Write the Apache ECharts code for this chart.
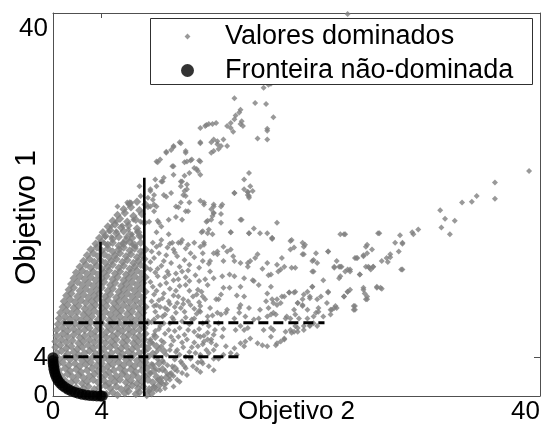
<!DOCTYPE html>
<html>
<head>
<meta charset="utf-8">
<script src="https://cdn.jsdelivr.net/npm/echarts@6/dist/echarts.min.js"></script>
<style>
  html, body { margin: 0; padding: 0; background: #fff; }
  #chart { width: 545px; height: 425px; }
</style>
</head>
<body>
<div id="chart"></div>
<script>
const FONT = '"Liberation Sans", Arial, Helvetica, sans-serif';
const AXIS_COLOR = '#505050';

// Tick positions shown on both axes
const xTicks = [0, 4, 40];
const yTicks = [0, 4, 40];

const seriesNames = ['Valores dominados', 'Fronteira não-dominada'];
const axisNames = ['Objetivo 2', 'Objetivo 1'];

// Dominated solutions: [objetivo 2, objetivo 1]
const dominatedCore = [
  // dense fan next to the frontier
  [4.4,0.2],[4.9,0.4],[5.3,0.1],[5.9,0.3],[6.2,0.5],[6.8,0.2],[7.1,0.4],[7.7,0.1],[8.1,0.3],
  [1.9,0.9],[2.5,0.8],[2.9,1.0],[3.4,0.7],[3.8,0.9],[4.3,1.1],[4.7,0.8],[5.2,1.0],[5.6,0.7],[6.1,0.9],[6.5,1.1],[7.0,0.8],[7.4,1.0],[7.9,0.7],[8.3,0.9],[8.7,1.1],
  [1.0,1.6],[1.5,1.4],[1.9,1.6],[2.4,1.3],[2.8,1.5],[3.3,1.7],[3.7,1.4],[4.2,1.6],[4.6,1.3],[5.1,1.5],[5.5,1.7],[6.0,1.4],[6.4,1.6],[6.9,1.3],[7.3,1.5],[7.8,1.7],[8.2,1.4],[8.8,1.6],[9.3,1.9],
  [0.7,2.1],[1.2,2.3],[1.6,2.0],[2.1,2.2],[2.5,1.9],[3.0,2.1],[3.4,2.3],[3.9,2.0],[4.3,2.2],[4.8,1.9],[5.2,2.1],[5.7,2.3],[6.1,2.0],[6.6,2.2],[7.0,1.9],[7.5,2.1],[7.9,2.3],[8.5,2.0],[9.6,2.2],
  [0.5,2.7],[1.0,2.9],[1.4,2.6],[1.9,2.8],[2.3,2.5],[2.8,2.7],[3.2,2.9],[3.7,2.6],[4.1,2.8],[4.6,2.5],[5.0,2.7],[5.5,2.9],[5.9,2.6],[6.4,2.8],[6.8,2.5],[7.3,2.7],[7.7,2.9],[8.3,2.6],[9.0,2.8],[10.0,2.9],
  [0.4,3.3],[0.8,3.5],[1.3,3.2],[1.8,3.4],[2.2,3.1],[2.7,3.3],[3.1,3.5],[3.6,3.2],[4.0,3.4],[4.5,3.1],[4.9,3.3],[5.4,3.5],[5.8,3.2],[6.3,3.4],[6.7,3.1],[7.2,3.3],[7.6,3.5],[8.1,3.2],[8.7,3.4],
  [0.5,3.9],[1.0,4.1],[1.4,3.8],[1.9,4.0],[2.4,3.7],[2.8,3.9],[3.3,4.1],[3.7,3.8],[4.2,4.0],[4.6,3.7],[5.1,3.9],[5.5,4.1],[6.0,3.8],[6.4,4.0],[6.9,3.7],[7.3,3.9],[7.8,4.1],
  [0.3,4.5],[0.7,4.7],[1.2,4.4],[1.7,4.6],[2.1,4.3],[2.6,4.5],[3.0,4.7],[3.5,4.4],[3.9,4.6],[4.4,4.3],[4.8,4.5],[5.3,4.7],[5.7,4.4],[6.2,4.6],[6.6,4.3],[7.1,4.5],[7.5,4.7],[8.2,4.4],[9.1,4.7],
  [0.2,5.1],[0.6,5.3],[1.1,5.0],[1.5,5.2],[2.0,4.9],[2.4,5.1],[2.9,5.3],[3.3,5.0],[3.8,5.2],[4.2,4.9],[4.7,5.1],[5.1,5.3],[5.6,5.0],[6.0,5.2],[6.5,4.9],[6.9,5.1],[7.4,5.3],[7.8,5.0],[8.5,5.2],
  [0.2,5.7],[0.7,5.9],[1.1,5.6],[1.6,5.8],[2.1,5.5],[2.5,5.7],[3.0,5.9],[3.4,5.6],[3.9,5.8],[4.3,5.5],[4.8,5.7],[5.2,5.9],[5.7,5.6],[6.1,5.8],[6.6,5.5],[7.0,5.7],[7.5,5.9],[8.0,5.6],
  [0.3,6.3],[0.8,6.5],[1.2,6.2],[1.7,6.4],[2.2,6.1],[2.6,6.3],[3.1,6.5],[3.5,6.2],[4.0,6.4],[4.4,6.1],[4.9,6.3],[5.3,6.5],[5.8,6.2],[6.2,6.4],[6.7,6.1],[7.1,6.3],[7.6,6.5],[8.4,6.2],
  [0.3,6.9],[0.8,7.1],[1.2,6.8],[1.7,7.0],[2.1,6.7],[2.6,6.9],[3.0,7.1],[3.5,6.8],[3.9,7.0],[4.4,6.7],[4.8,6.9],[5.3,7.1],[5.7,6.8],[6.2,7.0],[6.6,6.7],[7.1,6.9],[7.5,7.1],
  [0.4,7.5],[0.9,7.7],[1.3,7.4],[1.8,7.6],[2.2,7.3],[2.7,7.5],[3.1,7.7],[3.6,7.4],[4.0,7.6],[4.5,7.3],[4.9,7.5],[5.4,7.7],[5.8,7.4],[6.3,7.6],[6.7,7.3],[7.2,7.5],[7.8,7.7],
  [0.5,8.1],[1.0,8.3],[1.4,8.0],[1.9,8.2],[2.3,7.9],[2.8,8.1],[3.2,8.3],[3.7,8.0],[4.1,8.2],[4.6,7.9],[5.0,8.1],[5.5,8.3],[5.9,8.0],[6.4,8.2],[6.8,7.9],[7.3,8.1],
  [0.6,8.7],[1.1,8.9],[1.5,8.6],[2.0,8.8],[2.5,8.5],[2.9,8.7],[3.4,8.9],[3.8,8.6],[4.3,8.8],[4.7,8.5],[5.2,8.7],[5.6,8.9],[6.1,8.6],[6.5,8.8],[7.0,8.5],[7.4,8.7],
  [0.8,9.3],[1.2,9.5],[1.7,9.2],[2.1,9.4],[2.6,9.1],[3.1,9.3],[3.5,9.5],[4.0,9.2],[4.4,9.4],[4.9,9.1],[5.3,9.3],[5.8,9.5],[6.2,9.2],[6.7,9.4],[7.1,9.1],[7.6,9.3],
  [0.9,9.9],[1.4,10.1],[1.8,9.8],[2.3,10.0],[2.7,9.7],[3.2,9.9],[3.6,10.1],[4.1,9.8],[4.5,10.0],[5.0,9.7],[5.4,9.9],[5.9,10.1],[6.3,9.8],[6.8,10.0],[7.2,9.7],
  [1.1,10.5],[1.5,10.7],[2.0,10.4],[2.5,10.6],[2.9,10.3],[3.4,10.5],[3.8,10.7],[4.3,10.4],[4.7,10.6],[5.2,10.3],[5.6,10.5],[6.1,10.7],[6.5,10.4],[7.0,10.6],[7.4,10.3],
  [1.3,11.1],[1.7,11.3],[2.2,11.0],[2.7,11.2],[3.1,10.9],[3.6,11.1],[4.0,11.3],[4.5,11.0],[4.9,11.2],[5.4,10.9],[5.8,11.1],[6.3,11.3],[6.7,11.0],[7.2,11.2],[7.6,10.9],
  [1.5,11.7],[2.0,11.9],[2.4,11.6],[2.9,11.8],[3.3,11.5],[3.8,11.7],[4.2,11.9],[4.7,11.6],[5.1,11.8],[5.6,11.5],[6.0,11.7],[6.5,11.9],[6.9,11.6],[7.4,11.8],
  [1.7,12.3],[2.2,12.5],[2.6,12.2],[3.1,12.4],[3.5,12.1],[4.0,12.3],[4.4,12.5],[4.9,12.2],[5.3,12.4],[5.8,12.1],[6.2,12.3],[6.7,12.5],[7.1,12.2],[7.6,12.4],
  [1.9,12.9],[2.4,13.1],[2.8,12.8],[3.3,13.0],[3.7,12.7],[4.2,12.9],[4.6,13.1],[5.1,12.8],[5.5,13.0],[6.0,12.7],[6.4,12.9],[6.9,13.1],[7.3,12.8],
  [2.2,13.5],[2.7,13.7],[3.1,13.4],[3.6,13.6],[4.0,13.3],[4.5,13.5],[4.9,13.7],[5.4,13.4],[5.8,13.6],[6.3,13.3],[6.7,13.5],[7.2,13.7],[7.6,13.4],
  [2.5,14.1],[3.0,14.3],[3.4,14.0],[3.9,14.2],[4.3,13.9],[4.8,14.1],[5.2,14.3],[5.7,14.0],[6.1,14.2],[6.6,13.9],[7.0,14.1],[7.5,14.3],
  [2.8,14.7],[3.3,14.9],[3.7,14.6],[4.2,14.8],[4.6,14.5],[5.1,14.7],[5.5,14.9],[6.0,14.6],[6.4,14.8],[6.9,14.5],[7.3,14.7],
  [3.1,15.3],[3.6,15.5],[4.0,15.2],[4.5,15.4],[4.9,15.1],[5.4,15.3],[5.8,15.5],[6.3,15.2],[6.7,15.4],[7.2,15.1],[7.6,15.3],
  [3.5,15.9],[4.0,16.1],[4.5,15.8],[4.9,16.0],[5.4,15.7],[5.8,15.9],[6.3,16.1],[6.7,15.8],[7.2,16.0],
  [3.8,16.5],[4.3,16.7],[4.9,16.4],[5.4,16.6],[6.0,16.3],[6.5,16.5],[7.1,16.7],
  [4.1,17.1],[4.7,17.3],[5.2,17.0],[5.8,17.2],[6.3,16.9],[7.0,17.1],
  [4.5,17.7],[5.1,17.9],[5.6,17.6],[6.2,17.8],[6.9,17.5],
  [4.9,18.3],[5.5,18.5],[6.1,18.2],[6.8,18.4],[7.5,18.1],
  [5.3,18.9],[5.9,19.1],[6.6,18.8],[7.3,19.0],
  [5.8,19.5],[6.4,19.7],[7.1,19.4],
  [6.3,20.1],[6.9,20.3],[7.6,20.0]
];

const dominatedMiddle = [
  // band right of the dense fan
  [8.1,15.1],[8.7,14.9],[9.6,15.9],[10.2,14.6],[10.9,15.4],[11.6,16.0],[12.3,14.9],[8.0,14.0],[8.9,13.6],[9.7,13.9],
  [10.4,13.5],[11.2,13.7],[12.0,13.4],[12.8,13.8],[8.4,12.9],[9.2,12.4],[10.1,12.8],[10.9,12.4],[11.7,12.6],[12.5,12.2],
  [8.0,11.9],[8.8,11.6],[9.6,11.2],[10.4,11.5],[11.2,11.0],[12.2,10.9],[8.3,10.6],[9.0,10.2],[9.9,10.5],[10.7,10.1],
  [11.5,10.4],[12.5,10.1],[8.1,9.9],[8.8,9.3],[9.6,9.6],[10.5,9.2],[11.3,9.5],[12.0,8.9],[12.9,9.2],[8.4,8.8],
  [9.2,8.5],[10.1,8.7],[10.9,8.2],[11.8,8.6],[13.1,8.4],[8.1,7.7],[8.8,7.3],[9.6,7.6],[10.4,7.1],[11.2,7.5],
  [12.0,7.0],[12.8,7.3],[13.6,7.6],[8.4,6.8],[9.2,6.5],[10.0,6.8],[10.8,6.4],[11.6,6.7],[12.4,6.3],[13.3,6.9],
  [14.0,7.0],[8.2,5.5],[8.9,5.8],[9.7,5.3],[10.6,5.6],[11.4,5.1],[12.3,5.4],[13.0,5.9],[8.5,4.6],[9.3,4.3],
  [10.1,4.6],[10.9,4.1],[11.7,4.5],[12.6,4.8],[8.2,3.3],[9.0,3.7],[9.8,3.1],[10.6,3.4],[11.5,3.1],[12.2,3.6],
  [8.7,2.7],[9.4,2.3],[10.2,2.6],[11.0,2.2],[11.8,2.8],[8.9,1.4],[9.6,1.7],[10.4,1.5],[8.5,0.6],[9.2,0.8],[9.9,1.0],
  [8.6,18.3],[9.5,18.4],[10.6,18.4],[13.1,18.8],[14.6,17.1],[15.4,18.4],[16.1,17.0],[17.6,17.0],[18.4,18.1],
  [8.2,16.0],[8.9,16.3],[9.4,15.5],[9.9,15.3],[8.3,14.4],[9.1,14.1],[10.5,16.0],[11.3,14.9],[12.1,15.6],[12.7,17.0],
  [13.5,14.8],[14.6,15.3],[14.8,14.6],[16.0,13.9],[16.8,14.8],[17.6,13.9],[8.0,13.2],[8.6,12.5],[9.4,13.0],[8.2,11.4],
  [9.1,10.7],[9.9,12.1],[10.6,13.0],[11.2,12.0],[11.9,11.1],[12.7,11.6],[13.2,12.3],[13.8,10.6],[14.9,12.5],[15.4,11.4],
  [16.5,12.0],[17.6,10.7],[8.3,9.4],[9.4,9.0],[10.2,9.7],[8.6,8.3],[9.1,7.6],[9.9,8.0],[10.8,8.8],[11.6,8.1],
  [12.1,9.4],[12.7,7.8],[13.5,8.7],[14.3,9.0],[14.9,8.1],[15.4,7.3],[16.5,8.0],[17.3,6.9],[18.1,8.7],[8.0,5.9],
  [8.9,5.2],[9.7,6.2],[10.2,4.8],[11.0,5.9],[11.9,5.2],[12.7,5.9],[13.2,4.8],[8.6,3.8],[9.4,3.2],[10.5,3.6],
  [11.3,3.9],[12.1,4.1],[8.0,2.4],[8.9,1.9],[9.7,2.4],[10.2,1.7],[10.9,2.9],[8.3,1.0],[9.1,1.2],[7.9,0.5],
  [8.5,15.6],[9.3,14.7],[10.0,15.0],[10.8,14.2],[11.6,14.5],[8.6,13.3],[9.5,12.7],[10.3,12.2],[11.1,13.1],[12.0,12.0],
  [8.5,11.0],[9.3,11.8],[10.1,11.0],[10.9,11.6],[11.8,10.6],[8.7,10.0],[9.5,9.9],[10.3,10.4],[11.1,9.9],[12.0,9.8],
  [8.5,9.5],[9.2,9.2],[10.0,9.3],[10.7,9.6],[11.6,9.1],[8.3,8.0],[9.0,8.3],[9.8,8.2],[10.6,7.8],[11.4,8.0],
  [12.3,7.6],[8.7,7.0],[9.5,6.9],[10.3,6.2],[11.1,6.9],[11.9,6.3],[8.3,6.4],[9.1,5.6],[9.9,5.8],[10.7,5.1],
  [11.6,5.6],[8.7,4.9],[9.6,4.8],[10.4,4.3],[11.2,4.6],[8.3,4.1],[9.1,3.5],[10.0,3.8],[10.8,3.1],[11.9,3.5],
  [8.4,2.9],[9.2,2.6],[9.9,2.1],[10.6,2.4],[8.6,1.7],[9.3,1.3],[8.8,0.6]
];

const dominatedUpper = [
  // upper branch
  [24.2,39.9],[17.3,32.2],[17.7,32.5],[17.9,32.6],[14.9,31.1],[16.6,30.6],[17.5,30.5],[15.4,29.9],[15.3,29.6],[15.0,29.3],
  [18.1,29.1],[14.6,28.5],[14.3,28.2],[14.6,28.0],[15.4,28.4],[15.5,28.7],[17.6,27.9],[16.8,26.9],[17.6,26.8],[14.9,28.9],
  [15.6,28.2],[14.8,27.6],[17.6,27.7],[14.0,26.8],[12.5,28.2],[12.1,28.0],[12.8,28.4],[13.4,28.5],[12.6,28.3],[13.1,28.4],
  [12.1,26.4],[13.2,26.8],[13.5,26.3],[13.8,26.1],[14.3,26.1],[13.2,25.6],[13.6,25.8],[13.5,26.6],[9.9,26.1],[9.7,25.7],
  [10.5,26.4],[9.3,25.4],[10.9,25.4],[10.4,26.5],[9.9,26.0],[9.3,25.5],[10.9,25.6],[12.1,26.5],[13.0,26.5],[13.0,25.4],
  [8.6,24.4],[9.9,24.0],[10.8,24.4],[11.3,24.6],[12.0,24.6],[11.6,23.8],[11.2,23.3],[11.9,23.5],[8.5,24.5],[8.8,24.7],
  [9.8,24.0],[11.0,24.5],[11.4,24.7],[12.1,24.5],[11.8,23.7],[12.1,23.1],[10.8,23.0],[10.5,22.4],[11.0,22.1],[10.8,21.4],
  [10.9,20.9],[11.2,20.2],[9.9,23.1],[10.6,22.4],[10.5,21.9],[8.4,22.6],[9.0,22.4],[8.0,21.6],[9.1,21.0],[9.7,21.2],
  [9.1,22.8],[8.5,21.9],[8.9,22.4],[8.0,21.4],[8.3,21.0],[9.3,20.8],[10.7,21.0],[11.0,21.6],[7.1,21.9],[6.4,20.2],
  [7.2,20.9],[7.8,20.7],[8.2,20.5],[8.3,20.0],[7.8,19.7],[10.1,19.8],[10.5,20.2],[10.9,19.3],[12.1,20.4],[13.2,20.0],
  [13.8,19.8],[13.2,19.1],[10.3,19.7],[10.1,18.7],[11.1,19.3],[12.4,20.2],[13.0,19.5],[13.0,18.4],[12.6,18.2],[14.9,21.2],
  [15.7,21.6],[16.1,23.3],[15.7,22.6],[16.0,21.0],[16.1,20.7],[16.4,21.4],[16.0,21.3],[16.2,21.9],[5.3,19.8],[6.1,20.2],
  [6.2,20.0],[8.0,19.8],[8.5,19.8],[8.3,19.3],[6.6,18.4],[7.2,18.2],[7.9,18.2],[8.7,18.1],[8.9,17.7],[5.2,18.2],
  [4.8,17.7],[5.7,17.8],[5.2,17.2],[4.6,17.2],[4.3,16.6],[4.8,16.6],[6.2,17.4],[6.9,17.2],[6.5,16.9],[6.0,16.6],
  [7.2,16.6],[4.2,16.0],[4.4,15.8],[5.7,16.0],[6.5,15.8],[6.8,15.6],[8.5,17.1],[9.5,16.9],[8.8,15.8],[9.8,16.0],
  [10.3,16.0],[10.6,16.3],[11.1,15.8],[12.4,15.8],[12.2,17.1],[12.8,17.4],[14.9,21.2],[16.0,21.3],[16.1,20.9],[12.4,20.0],
  [13.2,19.8],[13.9,20.0],[13.2,19.1],[13.8,19.0],[12.7,18.3],[13.8,18.1],[15.5,18.4],[12.3,17.2],[13.1,16.9],[14.6,17.1],
  [16.1,17.0],[16.5,17.5],[17.0,17.0],[18.0,16.4],[19.5,16.2],[19.8,15.5],[20.7,15.8],[20.5,14.8],[22.6,15.1],[23.9,16.9],
  [24.8,14.4],[12.4,16.0],[13.2,14.9],[13.5,15.1],[14.0,15.6],[14.3,15.1]
];

const dominatedLower = [
  // lower branch
  [12.3,14.1],[12.9,14.1],[14.0,14.1],[14.9,14.1],[15.4,13.9],[16.2,14.1],[16.6,14.4],[16.0,13.5],[17.2,13.3],[18.4,13.7],
  [18.7,13.2],[19.6,13.4],[21.3,14.1],[21.4,13.0],[21.7,13.9],[23.1,13.5],[23.6,13.5],[24.2,13.2],[23.5,12.3],[12.9,13.0],
  [13.9,12.5],[14.5,12.7],[15.7,12.3],[16.4,12.1],[17.7,12.6],[16.9,11.6],[14.0,11.3],[14.5,11.3],[15.1,10.5],[15.7,10.4],
  [13.4,10.1],[13.6,10.1],[12.3,10.4],[18.8,10.4],[19.4,10.8],[19.9,10.9],[20.6,10.6],[21.1,10.4],[21.3,11.4],[22.6,10.8],
  [23.9,10.4],[24.2,10.9],[17.5,9.9],[18.0,10.1],[15.4,9.5],[15.3,9.2],[16.1,9.2],[17.0,9.0],[17.7,9.2],[18.4,9.5],
  [20.1,9.7],[20.5,9.5],[21.8,9.2],[21.6,8.7],[22.5,9.7],[22.9,9.0],[23.3,9.2],[13.8,8.5],[14.2,8.7],[12.7,8.3],
  [12.1,8.8],[15.3,8.7],[15.8,8.3],[16.9,8.1],[17.6,8.3],[18.3,8.5],[19.2,8.3],[19.9,8.5],[20.9,8.1],[22.2,8.3],
  [15.0,6.9],[15.7,6.9],[16.0,7.1],[18.1,6.9],[19.1,6.7],[19.6,6.6],[20.1,7.1],[20.6,6.9],[21.1,7.3],[12.7,6.6],
  [13.2,6.4],[13.9,6.2],[12.1,6.2],[12.4,5.7],[13.0,5.6],[13.4,5.3],[14.2,5.2],[14.9,5.0],[15.4,5.5],[15.8,5.7],
  [16.2,6.0],[16.8,5.5],[17.2,5.3],[17.6,5.2],[18.4,5.5],[19.0,5.9],[12.1,4.3],[12.8,4.5],[13.2,3.9],[13.6,3.9],
  [14.0,4.3],[14.6,4.5],[15.1,4.3],[15.7,5.2],[12.3,3.4],[12.8,3.1],[13.2,2.7],[12.1,2.5],
  [18.0,16.5],[19.6,16.3],[19.5,15.3],[18.8,14.4],[19.0,13.5],[18.5,13.0],[19.9,13.4],[21.4,14.2],[21.3,13.0],[20.5,16.0],
  [20.6,15.6],[20.6,14.8],[21.6,14.9],[22.6,15.1],[23.3,14.1],[23.5,13.5],[23.1,13.4],[23.7,13.5],[24.0,13.0],[23.6,12.5],
  [22.2,12.1],[22.6,10.9],[24.2,10.9],[24.4,11.1],[23.9,10.4],[22.8,9.0],[23.1,9.2],[23.2,9.4],[22.8,8.5],[21.3,11.4],
  [20.9,10.9],[21.1,10.2],[20.5,10.1],[20.1,9.7],[19.8,10.8],[19.4,10.8],[19.0,10.4],[18.4,10.1],[18.1,9.7],[18.7,9.7],
  [21.7,10.1],[22.0,10.4],[21.8,8.8],[21.4,8.3],[20.9,9.0],[20.5,9.4],[19.8,9.0],[20.2,8.1],[19.5,8.1],[19.1,8.1],
  [19.9,7.3],[19.8,6.7],[19.5,6.9],[20.1,6.7],[20.6,7.3],[21.1,7.4],[21.4,7.6],[21.7,7.3],[19.0,6.0],[18.7,5.7],
  [18.3,5.3],[17.9,6.2],[17.9,7.1],[17.9,8.5],[18.0,16.5],[17.9,12.7],[17.9,11.4],
  [24.0,16.9],[23.6,16.9],[25.7,15.6],[25.8,14.9],[25.0,14.4],[25.5,14.6],[26.3,13.5],[25.9,13.5],[26.1,13.2],[25.2,12.7],
  [24.4,13.2],[26.6,11.3],[26.9,11.3],[25.5,11.1],[25.8,10.4],[25.7,10.1],[24.7,9.4],[24.7,9.0],[24.8,9.4],[26.7,17.0],
  [25.8,15.8],[26.2,15.3],[27.7,14.8],[27.4,14.4],[27.0,14.1],[28.7,13.2],[24.9,14.4],[25.7,13.5],[26.0,13.4],[26.3,13.5],
  [25.2,12.7],[24.4,13.0],[25.5,11.3],[25.6,10.7],[25.8,10.1],[26.6,11.4],[27.0,11.2],[24.8,9.0],
  [28.5,16.8],[28.1,16.0],[28.7,16.0],[28.4,15.1],[27.7,14.5],[27.5,14.0],[28.6,13.2],[26.8,17.0],[25.5,14.7],[30.0,17.4],
  [29.5,17.1],[29.6,16.9],[28.7,15.9],[32.6,16.9],[31.9,17.6],[31.8,19.4],[32.2,18.5],[33.0,18.3],[33.6,20.2],[34.4,20.3],
  [34.8,20.9],[36.3,20.6],[36.3,22.3],[39.1,23.5]
];

// Non-dominated frontier: [objetivo 2, objetivo 1]
const frontier = [
  [0.0,4.0],[0.0,3.7],[0.02,3.4],[0.05,3.1],[0.08,2.8],[0.13,2.5],[0.2,2.2],[0.3,1.9],[0.42,1.6],[0.58,1.35],
  [0.78,1.1],[1.0,0.9],[1.25,0.7],[1.5,0.54],[1.8,0.4],[2.1,0.28],[2.4,0.18],[2.7,0.11],[3.0,0.06],[3.3,0.03],
  [3.6,0.01],[3.9,0.0],[4.05,0.0]
];

// Solid cuts: [objetivo 2, top of the cut]
const verticalCuts = [[3.9, 16.1], [7.5, 22.8]];
// Dashed cuts: [objetivo 1, start, end]
const horizontalCuts = [[4.1, 0.85, 15.4], [7.65, 0.85, 22.3]];

const dominated = dominatedCore.concat(dominatedMiddle, dominatedUpper, dominatedLower);
const coreCount = dominatedCore.length;

const cutSeries = [];
verticalCuts.forEach(function (c) {
  cutSeries.push({
    type: 'line', data: [[c[0], 0], [c[0], c[1]]], symbol: 'none', silent: true, z: 3,
    lineStyle: { color: '#000', width: 2.6 }
  });
});
horizontalCuts.forEach(function (c) {
  cutSeries.push({
    type: 'line', data: [[c[1], c[0]], [c[2], c[0]]], symbol: 'none', silent: true, z: 3,
    lineStyle: { color: '#000', width: 3, type: [10, 5] }
  });
});

const labelStyle = { fontSize: 26, fontFamily: FONT, color: '#000' };

function frameAxis(position, extra) {
  return Object.assign({
    type: 'value', min: 0, max: 40, position: position,
    axisLine: { show: true, onZero: false, lineStyle: { color: AXIS_COLOR, width: 1 } },
    axisTick: { show: true, inside: true, length: 6, lineStyle: { color: AXIS_COLOR, width: 1 } },
    axisLabel: { show: false },
    splitLine: { show: false }
  }, extra);
}

const chart = echarts.init(document.getElementById('chart'));
chart.setOption({
  animation: false,
  backgroundColor: '#fff',
  grid: { left: 53, right: 5, top: 13, bottom: 29, outerBoundsMode: 'none', containLabel: false },
  xAxis: [
    frameAxis('bottom', {
      axisTick: { show: true, inside: true, length: 6, customValues: xTicks, lineStyle: { color: AXIS_COLOR } },
      axisLabel: Object.assign({ show: true, customValues: xTicks, margin: 3, alignMaxLabel: 'right' }, labelStyle),
      name: axisNames[0], nameLocation: 'middle', nameGap: 3, nameMoveOverlap: false,
      nameTextStyle: Object.assign({ verticalAlign: 'top' }, labelStyle)
    }),
    frameAxis('top', {
      axisTick: { show: true, inside: true, length: 5, customValues: xTicks, lineStyle: { color: AXIS_COLOR } }
    })
  ],
  yAxis: [
    frameAxis('left', {
      axisTick: { show: true, inside: true, length: 6, customValues: yTicks, lineStyle: { color: AXIS_COLOR } },
      axisLabel: Object.assign({ show: true, customValues: yTicks, margin: 5, lineHeight: 31, verticalAlignMaxLabel: 'top' }, labelStyle),
      name: axisNames[1], nameLocation: 'middle', nameGap: 11, nameMoveOverlap: false,
      nameTextStyle: Object.assign({}, labelStyle, { fontSize: 30, padding: [0, 26, 0, 0] })
    }),
    frameAxis('right', {
      axisTick: { show: true, inside: true, length: 6, customValues: yTicks, lineStyle: { color: AXIS_COLOR } }
    })
  ],
  legend: {
    data: [
      { name: seriesNames[0], icon: 'path://M0,0M12,12M6,3.3L8.7,6L6,8.7L3.3,6Z' },
      { name: seriesNames[1], icon: 'circle' }
    ],
    orient: 'vertical', left: 150, top: 18, padding: [5, 0, 3, 31], itemGap: 7,
    itemWidth: 13, itemHeight: 13, z: 7, selectedMode: false,
    textStyle: Object.assign({ lineHeight: 26, padding: [0, 0, 0, 26] }, labelStyle, { fontSize: 27 })
  },
  graphic: [{
    type: 'rect', z: 6, silent: true,
    shape: { x: 150.5, y: 18.5, width: 382, height: 66 },
    style: { fill: '#fff', stroke: '#303030', lineWidth: 1 }
  }],
  series: [
    {
      name: seriesNames[0], type: 'scatter', data: dominated, symbol: 'diamond',
      symbolSize: function (value, params) { return params.dataIndex < coreCount ? 8.5 : 6; },
      itemStyle: { color: '#808080' }, silent: true, z: 2
    }
  ].concat(cutSeries, [
    {
      name: seriesNames[1], type: 'scatter', data: frontier, symbol: 'circle', symbolSize: 11,
      itemStyle: { color: '#000' }, silent: true, z: 4, clip: false
    }
  ])
});
</script>
</body>
</html>
